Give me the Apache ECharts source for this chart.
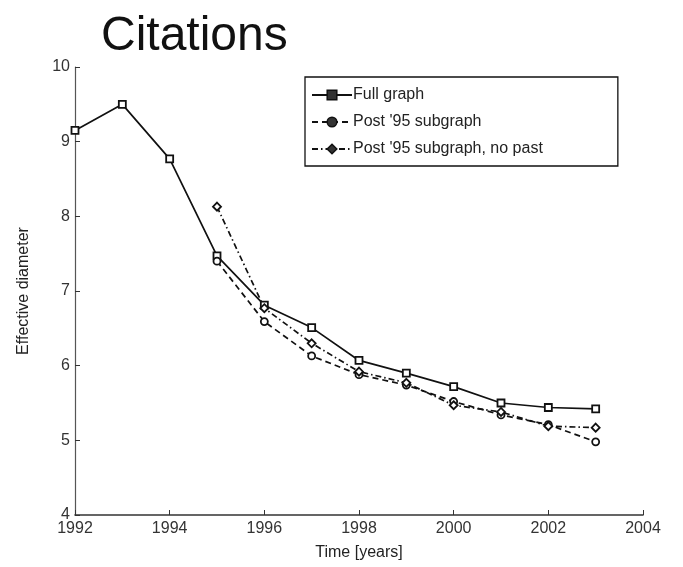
<!DOCTYPE html>
<html>
<head>
<meta charset="utf-8">
<script src="https://cdn.jsdelivr.net/npm/echarts@6/dist/echarts.min.js"></script>
<style>
  html, body { margin: 0; padding: 0; background: #fff; }
  #chart { width: 683px; height: 567px; }
</style>
</head>
<body>
<div id="chart"></div>
<script>
// values
const years = [1992, 1993, 1994, 1995, 1996, 1997, 1998, 1999, 2000, 2001, 2002, 2003];
const fullGraph = [9.15, 9.50, 8.77, 7.47, 6.81, 6.51, 6.07, 5.90, 5.72, 5.50, 5.44, 5.42];
const post95Years = [1995, 1996, 1997, 1998, 1999, 2000, 2001, 2002, 2003];
const post95 = [7.40, 6.59, 6.13, 5.88, 5.74, 5.52, 5.34, 5.21, 4.98];
const post95NoPast = [8.13, 6.77, 6.30, 5.92, 5.77, 5.47, 5.38, 5.19, 5.17];
const seriesNames = ['Full graph', "Post '95 subgraph", "Post '95 subgraph, no past"];

const font = 'Liberation Sans, Arial, sans-serif';
const pairs = (xs, ys) => xs.map((x, i) => [x, ys[i]]);

const chart = echarts.init(document.getElementById('chart'));

const lineSeries = (name, data, symbol, dash) => ({
  name,
  type: 'line',
  data,
  symbol,
  symbolSize: symbol === 'diamond' ? 8 : 7,
  showSymbol: true,
  itemStyle: { color: '#fff', borderColor: '#111', borderWidth: 1.8 },
  lineStyle: { color: '#111', width: 1.7, type: dash },
  emphasis: { disabled: true },
});

chart.setOption({
  animation: false,
  backgroundColor: '#fff',
  title: {
    text: 'Citations',
    left: 96,
    top: 8,
    textStyle: { fontFamily: font, fontSize: 48, fontWeight: 'normal', color: '#111' },
  },
  legend: {
    orient: 'vertical',
    left: 305,
    top: 77,
    padding: [10, 75, 9, 6],
    borderColor: '#111',
    borderWidth: 1.3,
    itemWidth: 40,
    itemHeight: 12,
    itemGap: 11,
    data: seriesNames,
    itemStyle: { color: '#333', borderColor: '#111', borderWidth: 1.5 },
    textStyle: { fontFamily: font, fontSize: 16, color: '#222', padding: [0, 0, 0, -4] },
  },
  grid: { left: 75, right: 40, top: 67, bottom: 52 },
  xAxis: {
    type: 'value',
    min: 1992,
    max: 2004,
    interval: 2,
    name: 'Time [years]',
    nameLocation: 'middle',
    nameGap: 30,
    nameTextStyle: { fontFamily: font, fontSize: 16, color: '#222' },
    axisLine: { show: true, lineStyle: { color: '#333', width: 1.6 } },
    axisTick: { show: true, inside: true, length: 5, lineStyle: { color: '#333' } },
    axisLabel: { formatter: (v) => String(v), fontFamily: font, fontSize: 16, color: '#333', margin: 6 },
    splitLine: { show: false },
  },
  yAxis: {
    type: 'value',
    min: 4,
    max: 10,
    interval: 1,
    name: 'Effective diameter',
    nameLocation: 'middle',
    nameGap: 43,
    nameTextStyle: { fontFamily: font, fontSize: 16, color: '#222' },
    axisLine: { show: true, lineStyle: { color: '#555', width: 1.2 } },
    axisTick: { show: true, inside: true, length: 5, lineStyle: { color: '#333' } },
    axisLabel: { fontFamily: font, fontSize: 16, color: '#333', margin: 5 },
    splitLine: { show: false },
  },
  series: [
    lineSeries(seriesNames[0], pairs(years, fullGraph), 'rect', 'solid'),
    lineSeries(seriesNames[1], pairs(post95Years, post95), 'circle', [6, 4]),
    lineSeries(seriesNames[2], pairs(post95Years, post95NoPast), 'diamond', [6, 3, 1.5, 3]),
  ],
});
</script>
</body>
</html>
